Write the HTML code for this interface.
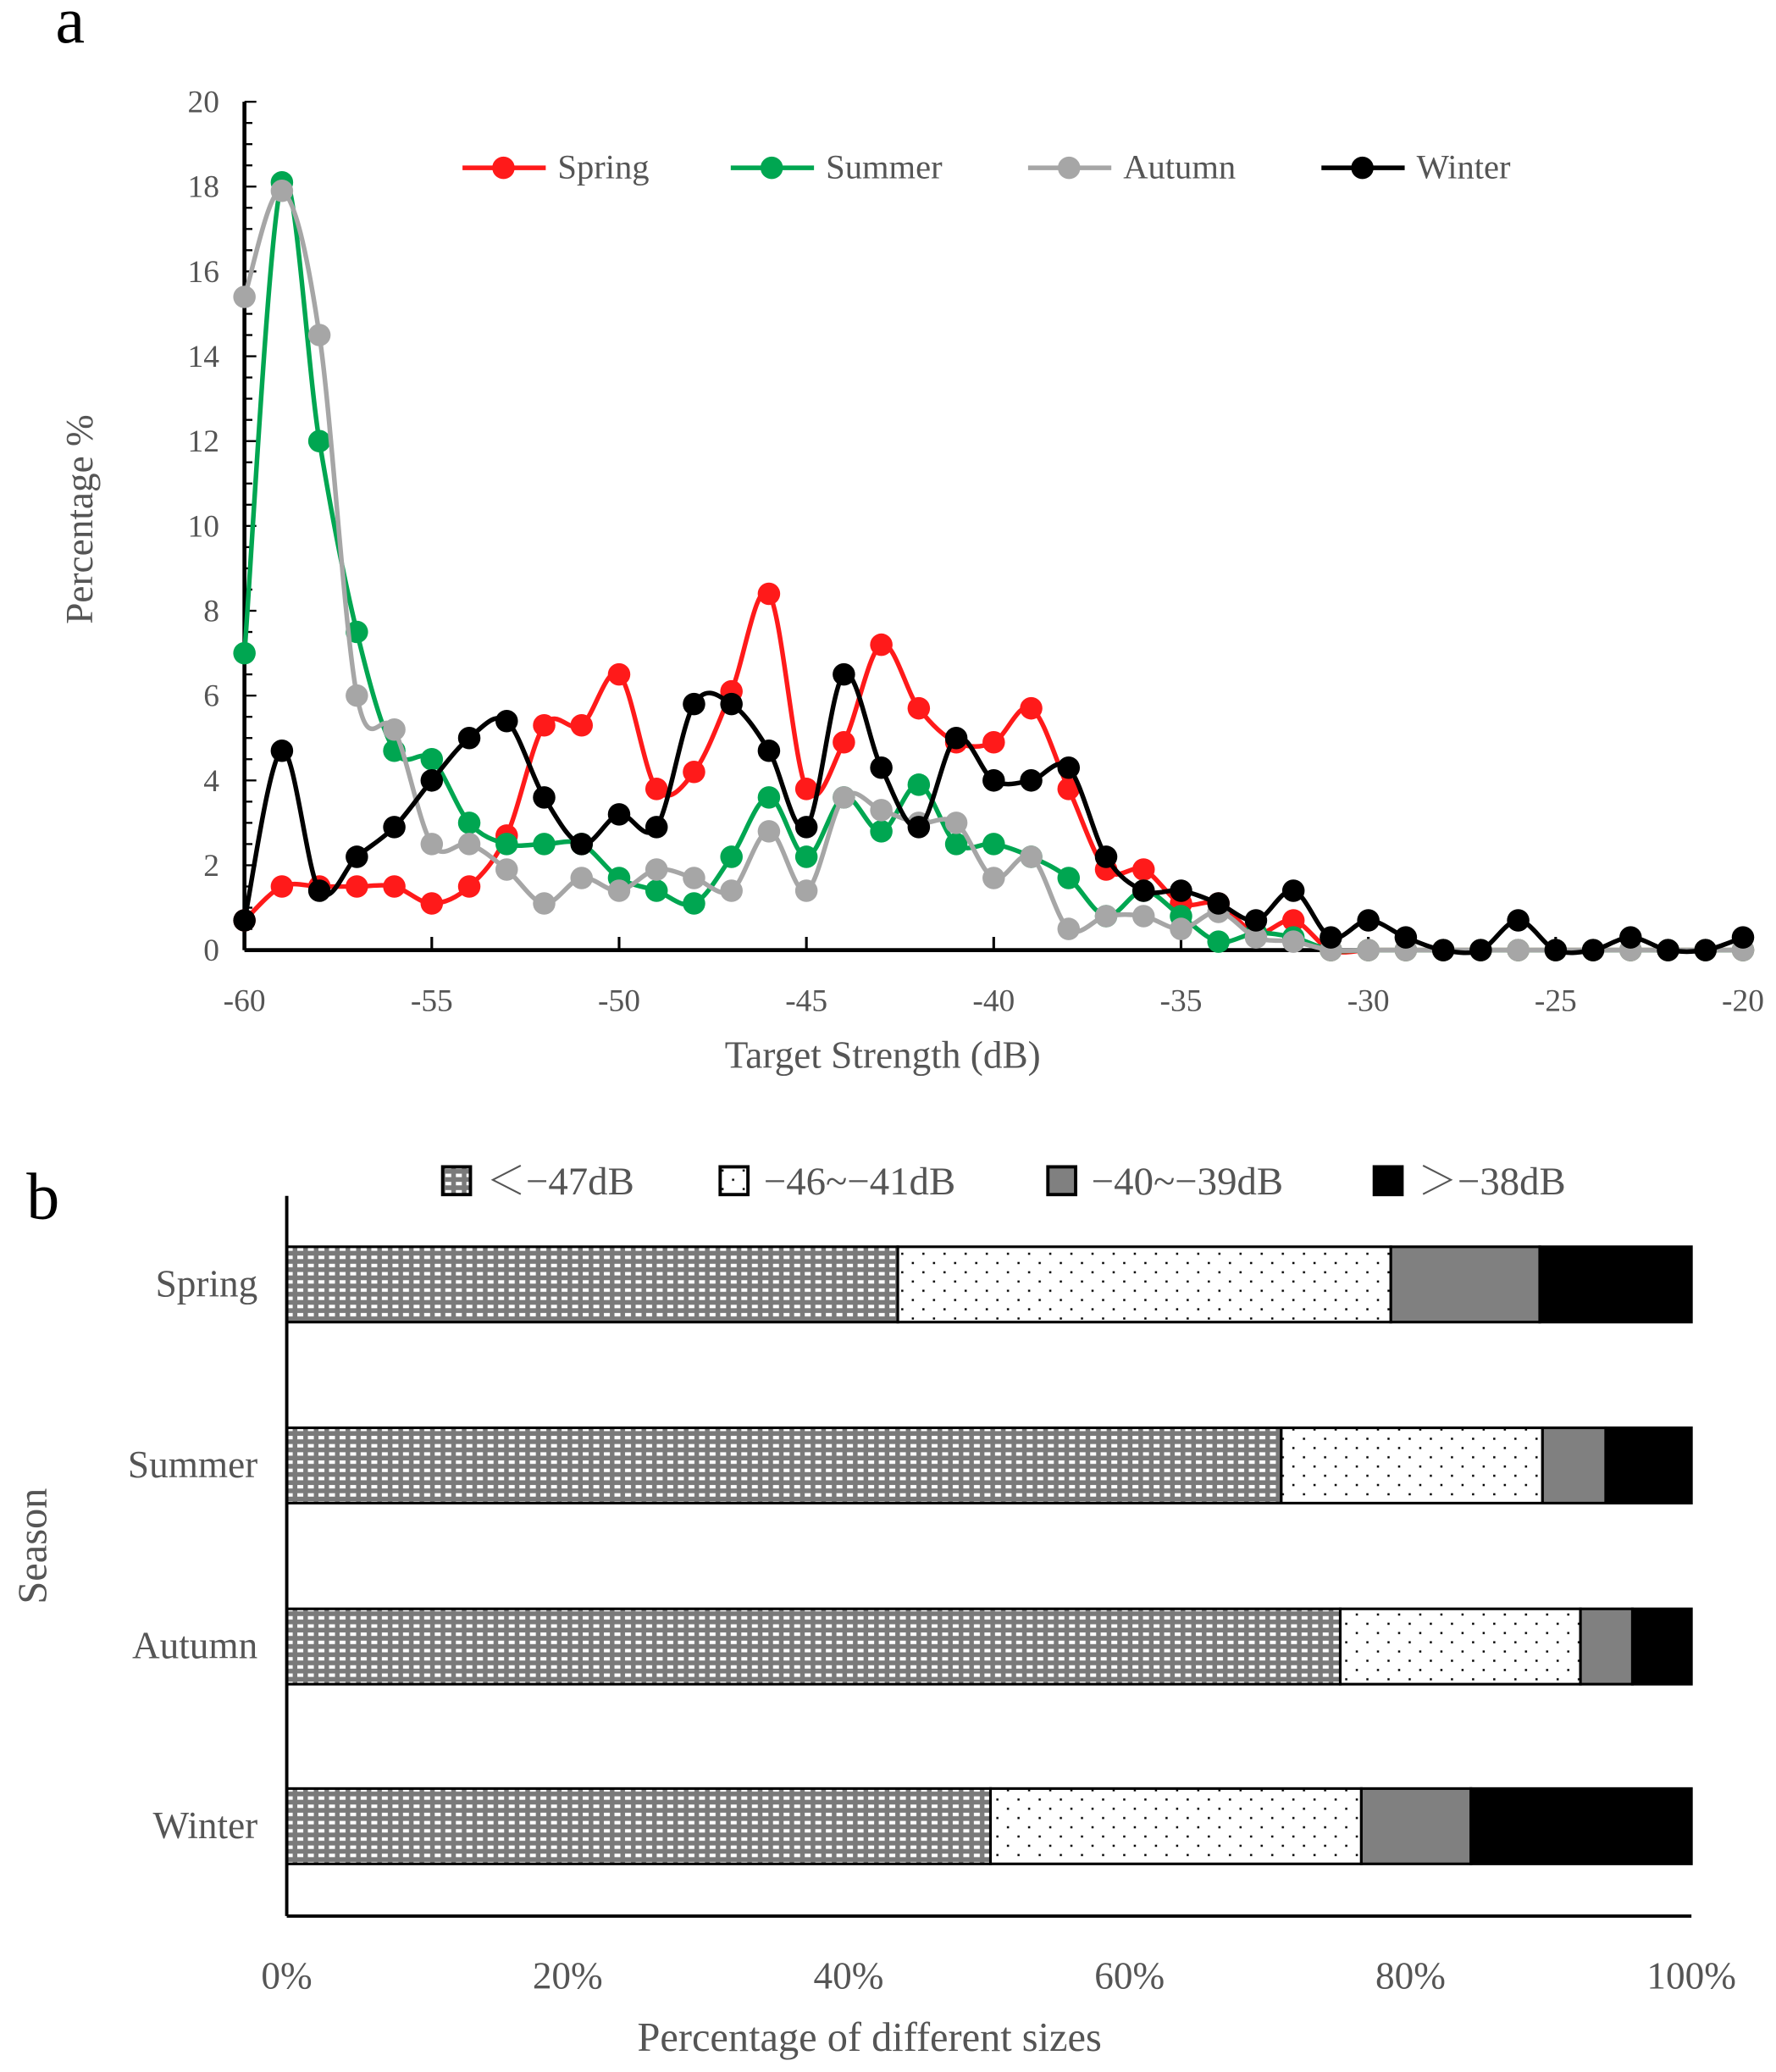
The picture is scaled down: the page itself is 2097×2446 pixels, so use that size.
<!DOCTYPE html>
<html><head><meta charset="utf-8"><style>
html,body{margin:0;padding:0;background:#fff;}
svg{display:block;font-family:"Liberation Serif","Noto Serif CJK SC",serif;}
</style></head><body>
<svg id="chart" width="2097" height="2446" viewBox="0 0 1344 1568" preserveAspectRatio="none" xmlns="http://www.w3.org/2000/svg">
<defs>
<pattern id="patA" width="8" height="6.2" patternUnits="userSpaceOnUse"><rect width="8" height="6.2" fill="#7a7a7a"/><rect x="1" y="1.6" width="4.5" height="2.6" fill="#fff"/></pattern>
<pattern id="patB" width="16" height="14" patternUnits="userSpaceOnUse"><rect width="16" height="14" fill="#fff"/><rect x="2" y="3" width="1.6" height="1.6" fill="#000"/><rect x="10" y="10" width="1.6" height="1.6" fill="#000"/></pattern>
</defs>
<g id="panelA"></g>
<g id="panelB"></g>
</svg>
<script>
// ---------- Panel a data ----------
const tsValues = [-60,-59,-58,-57,-56,-55,-54,-53,-52,-51,-50,-49,-48,-47,-46,-45,-44,-43,-42,-41,-40,-39,-38,-37,-36,-35,-34,-33,-32,-31,-30,-29,-28,-27,-26,-25,-24,-23,-22,-21,-20];
const springValues = [0.7,1.5,1.5,1.5,1.5,1.1,1.5,2.7,5.3,5.3,6.5,3.8,4.2,6.1,8.4,3.8,4.9,7.2,5.7,4.9,4.9,5.7,3.8,1.9,1.9,1.1,1.1,0.4,0.7,0,0,0,0,0,0,0,0,0,0,0,0];
const summerValues = [7.0,18.1,12.0,7.5,4.7,4.5,3.0,2.5,2.5,2.5,1.7,1.4,1.1,2.2,3.6,2.2,3.6,2.8,3.9,2.5,2.5,2.2,1.7,0.8,1.4,0.8,0.2,0.4,0.3,0,0,0,0,0,0,0,0,0,0,0,0];
const autumnValues = [15.4,17.9,14.5,6.0,5.2,2.5,2.5,1.9,1.1,1.7,1.4,1.9,1.7,1.4,2.8,1.4,3.6,3.3,3.0,3.0,1.7,2.2,0.5,0.8,0.8,0.5,0.9,0.3,0.2,0,0,0,0,0,0,0,0,0,0,0,0];
const winterValues = [0.7,4.7,1.4,2.2,2.9,4.0,5.0,5.4,3.6,2.5,3.2,2.9,5.8,5.8,4.7,2.9,6.5,4.3,2.9,5.0,4.0,4.0,4.3,2.2,1.4,1.4,1.1,0.7,1.4,0.3,0.7,0.3,0,0,0.7,0,0,0.3,0,0,0.3];
const seriesNames = ["Spring","Summer","Autumn","Winter"];
const xTicksA = [-60,-55,-50,-45,-40,-35,-30,-25,-20];
const yTicksA = [0,2,4,6,8,10,12,14,16,18,20];
// ---------- Panel b data ----------
const seasons = ["Spring","Summer","Autumn","Winter"];
const classLabels = ["＜−47dB","−46~−41dB","−40~−39dB","＞−38dB"];
const lt47 = [43.5,70.8,75.0,50.1];
const mid46to41 = [35.1,18.6,17.1,26.4];
const mid40to39 = [10.6,4.5,3.7,7.8];
const gt38 = [10.8,6.1,4.2,15.7];
const xTicksB = [0,20,40,60,80,100];

const NS="http://www.w3.org/2000/svg";
function mk(parent,tag,attrs,text){const e=document.createElementNS(NS,tag);for(const k in attrs)e.setAttribute(k,attrs[k]);if(text!==undefined)e.textContent=text;parent.appendChild(e);return e;}
function smoothPath(p){let d='M'+p[0][0].toFixed(1)+','+p[0][1].toFixed(1);
for(let i=0;i<p.length-1;i++){const p0=p[i-1]||p[i],p1=p[i],p2=p[i+1],p3=p[i+2]||p2;const k=1/6;
const c1=[p1[0]+(p2[0]-p0[0])*k,p1[1]+(p2[1]-p0[1])*k],c2=[p2[0]-(p3[0]-p1[0])*k,p2[1]-(p3[1]-p1[1])*k];
d+=' C'+c1[0].toFixed(1)+','+c1[1].toFixed(1)+' '+c2[0].toFixed(1)+','+c2[1].toFixed(1)+' '+p2[0].toFixed(1)+','+p2[1].toFixed(1);}
return d;}

// ---------- Panel a ----------
const A=document.getElementById('panelA');
const ax0=185, ax1=1319, ay0=719, ay1=77;
const xA=v=>ax0+(v+60)/40*(ax1-ax0);
const yA=v=>ay0-v/20*(ay0-ay1);
let t=mk(A,'text',{x:42,y:32,'font-size':50,fill:'#000'},'a');


let l=mk(A,'line',{x1:ax0,y1:ay1,x2:ax0,y2:ay0,stroke:'#000','stroke-width':3});


l=mk(A,'line',{x1:ax0,y1:ay0,x2:ax1,y2:ay0,stroke:'#000','stroke-width':3});


for(let v=0;v<=20;v+=0.5){mk(A,'line',{x1:ax0,y1:yA(v),x2:ax0+(v%2===0?9:6),y2:yA(v),stroke:'#000','stroke-width':1.5});}
yTicksA.forEach(v=>{const e=mk(A,'text',{x:166,y:yA(v)+8,'font-size':24,fill:'#555','text-anchor':'end'},String(v));

});
xTicksA.forEach(v=>{mk(A,'line',{x1:xA(v),y1:ay0,x2:xA(v),y2:ay0-10,stroke:'#000','stroke-width':2});
const e=mk(A,'text',{x:xA(v),y:765,'font-size':24,fill:'#555','text-anchor':'middle'},String(v));

});
t=mk(A,'text',{x:668,y:808,'font-size':29,fill:'#555','text-anchor':'middle'},'Target Strength (dB)');


t=mk(A,'text',{x:70,y:393,'font-size':29,fill:'#555','text-anchor':'middle',transform:'rotate(-90 70 393)'},'Percentage %');


const colors=['#ff1a1a','#00a651','#a6a6a6','#000000'];
const allSeries=[springValues,summerValues,autumnValues,winterValues];
const drawOrder=[0,1,2,3];
drawOrder.forEach(si=>{const vals=allSeries[si];
const g=mk(A,'g',{});


const pts=vals.map((v,i)=>[xA(tsValues[i]),yA(v)]);
mk(g,'path',{d:smoothPath(pts),fill:'none',stroke:colors[si],'stroke-width':3.5,'stroke-linejoin':'round'});
vals.forEach((v,i)=>{const c=mk(g,'circle',{cx:xA(tsValues[i]),cy:yA(v),r:8.5,fill:colors[si]});

});
});
const legX=[350,553,778,1000];
seriesNames.forEach((n,i)=>{const g=mk(A,'g',{});


mk(g,'line',{x1:legX[i],y1:127,x2:legX[i]+63,y2:127,stroke:colors[i],'stroke-width':3.5});
mk(g,'circle',{cx:legX[i]+31,cy:127,r:8.5,fill:colors[i]});
mk(g,'text',{x:legX[i]+72,y:135,'font-size':26,fill:'#555'},n);});

// ---------- Panel b ----------
const B=document.getElementById('panelB');
const bx0=217, bx1=1280, byTop=905, byBot=1450;
const xB=v=>bx0+v/100*(bx1-bx0);
const barCenters=[972,1109,1246,1382], barH=57;
t=mk(B,'text',{x:20,y:922,'font-size':50,fill:'#000'},'b');


const fills=['url(#patA)','url(#patB)','#808080','#000'];
const segData=[lt47,mid46to41,mid40to39,gt38];
seasons.forEach((s,i)=>{let acc=0;const g=mk(B,'g',{});


segData.forEach((arr,k)=>{const v=arr[i];
const r=mk(g,'rect',{x:xB(acc),y:barCenters[i]-barH/2,width:xB(acc+v)-xB(acc),height:barH,fill:fills[k],stroke:'#000','stroke-width':2});


acc+=v;});
const e=mk(B,'text',{x:195,y:barCenters[i]+9,'font-size':29,fill:'#555','text-anchor':'end'},s);

});
l=mk(B,'line',{x1:bx0,y1:byTop,x2:bx0,y2:byBot,stroke:'#000','stroke-width':2.5});


l=mk(B,'line',{x1:bx0,y1:byBot,x2:bx1,y2:byBot,stroke:'#000','stroke-width':2.5});


xTicksB.forEach(v=>{const e=mk(B,'text',{x:xB(v),y:1505,'font-size':29,fill:'#555','text-anchor':'middle'},v+'%');

});
t=mk(B,'text',{x:658,y:1552,'font-size':31,fill:'#555','text-anchor':'middle'},'Percentage of different sizes');


t=mk(B,'text',{x:35,y:1170,'font-size':31,fill:'#555','text-anchor':'middle',transform:'rotate(-90 35 1170)'},'Season');


const lbX=[335,545,793,1040];
classLabels.forEach((n,i)=>{const g=mk(B,'g',{});


mk(g,'rect',{x:lbX[i],y:883,width:21,height:21,fill:fills[i],stroke:'#000','stroke-width':2.5});
mk(g,'text',{x:lbX[i]+33,y:904,'font-size':30,fill:'#555'},n);});
</script>
</body></html>
